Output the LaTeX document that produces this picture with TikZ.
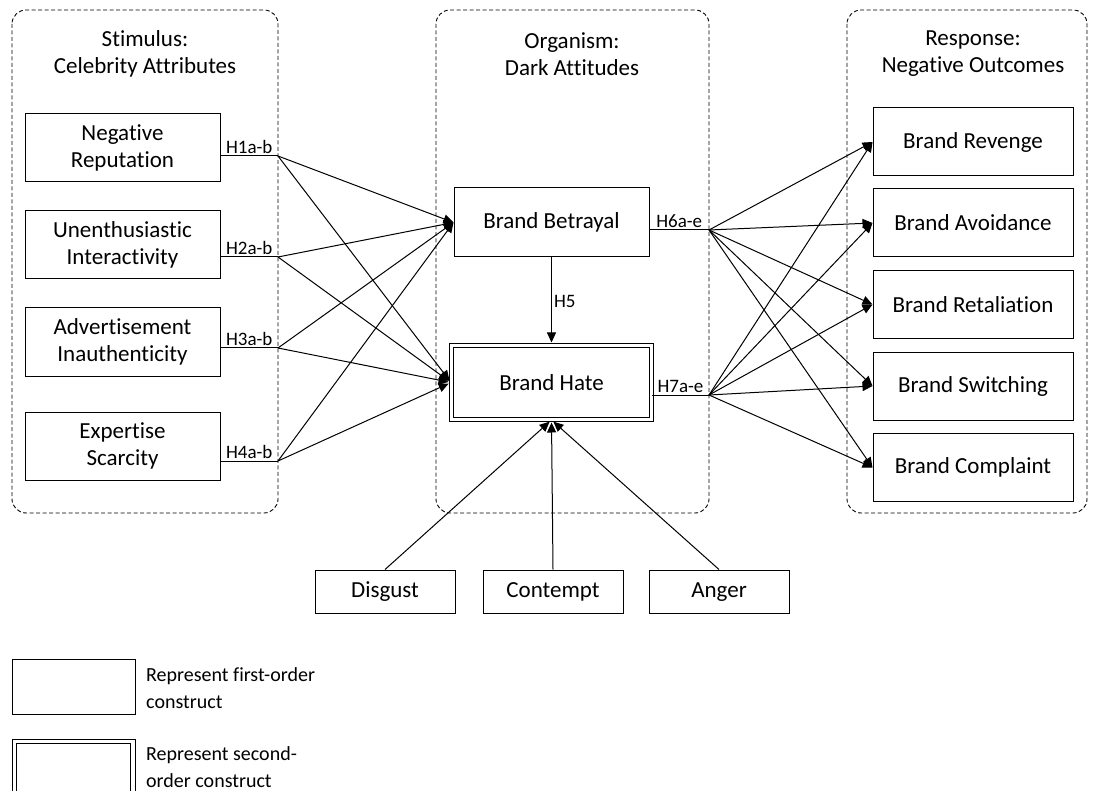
\documentclass[tikz,border=0pt]{standalone}
\usepackage{fontspec}
\setmainfont{Carlito}[Ligatures=NoCommon]
\usetikzlibrary{arrows.meta}

\begin{document}
\begin{tikzpicture}[x=1pt, y=-1pt]
        \tikzstyle{stage}=[draw, dash pattern=on 4pt off 2.5pt,
            rounded corners=14pt, line width=0.9pt]
        \tikzstyle{construct}=[draw, line width=1pt, inner sep=0pt,
            align=center, font=\fontsize{23}{27}\selectfont]
        \tikzstyle{emotion}=[construct, minimum width=140, minimum height=43,
            text height=16pt, text depth=5pt]
        \tikzstyle{heading}=[align=center, font=\fontsize{23}{27}\selectfont]
        \tikzstyle{hyp}=[inner sep=2pt, font=\fontsize{19}{22}\selectfont]
        \tikzstyle{legend}=[align=left, inner sep=0pt, font=\fontsize{20}{27}\selectfont]
        \tikzstyle{effect}=[line width=1pt, -{Triangle[length=10pt, width=9pt]}]

        \useasboundingbox (0, 0) rectangle (1097, 791);
        \clip (0, 0) rectangle (1097, 791);

	\draw[stage] (12, 10) rectangle (278, 513);
	\draw[stage] (436, 10) rectangle (709, 513);
	\draw[stage] (847, 10) rectangle (1087, 513);

        \node[heading] (stimulus) at (145, 54) {Stimulus:\\Celebrity Attributes};
        \node[heading] (organism) at (572, 54) {Organism:\\Dark Attitudes};
        \node[heading] (response) at (973, 54) {Response:\\Negative Outcomes};

        \node[construct, minimum width=195, minimum height=68] (nr) at (122.5, 148) {Negative\\Reputation};
        \node[construct, minimum width=195, minimum height=68] (ui) at (122.5, 245) {Unenthusiastic\\Interactivity};
        \node[construct, minimum width=195, minimum height=68] (ai) at (122.5, 342) {Advertisement\\Inauthenticity};
        \node[construct, minimum width=195, minimum height=68] (es) at (122.5, 446) {Expertise\\Scarcity};

        \node[construct, minimum width=195, minimum height=69] (bb) at (551.5, 222.5) {Brand Betrayal};
        \node[construct, double, double distance=3.5pt,
            minimum width=200, minimum height=74] (bh) at (551.5, 382.5) {Brand Hate};

        \node[construct, minimum width=200, minimum height=68] (rv) at (973, 142) {Brand Revenge};
        \node[construct, minimum width=200, minimum height=68] (av) at (973, 223) {Brand Avoidance};
        \node[construct, minimum width=200, minimum height=68] (rt) at (973, 304.5) {Brand Retaliation};
        \node[construct, minimum width=200, minimum height=68] (sw) at (973, 386) {Brand Switching};
        \node[construct, minimum width=200, minimum height=68] (cp) at (973, 467.5) {Brand Complaint};

        \node[emotion] (dg) at (385, 591.5) {Disgust};
        \node[emotion] (ct) at (553, 591.5) {Contempt};
        \node[emotion] (ag) at (719, 591.5) {Anger};

        \coordinate (h1) at (278, 156);
        \coordinate (h2) at (278, 257);
        \coordinate (h3) at (278, 348);
        \coordinate (h4) at (278, 461);
        \coordinate (h6) at (709, 230);
        \coordinate (h7) at (709, 395);

	\draw[line width=1pt] (nr.east |- h1) -- node[hyp, above] {H1a-b} (h1);
	\draw[line width=1pt] (ui.east |- h2) -- node[hyp, above] {H2a-b} (h2);
	\draw[line width=1pt] (ai.east |- h3) -- node[hyp, above] {H3a-b} (h3);
	\draw[line width=1pt] (es.east |- h4) -- node[hyp, above] {H4a-b} (h4);
	\draw[line width=1pt] (bb.east |- h6) -- node[hyp, above] {H6a-e} (h6);
	\draw[line width=1pt] (bh.east |- h7) -- node[hyp, above] {H7a-e} (h7);

	\draw[effect] (h1) to (bb.west);
	\draw[effect, shorten >=2.5pt] (h1) to (bh.west);
	\draw[effect] (h2) to (bb.west);
	\draw[effect, shorten >=2.5pt] (h2) to (bh.west);
	\draw[effect] (h3) to (bb.west);
	\draw[effect, shorten >=2.5pt] (h3) to (bh.west);
	\draw[effect] (h4) to (bb.west);
	\draw[effect, shorten >=2.5pt] (h4) to (bh.west);

	\draw[effect, shorten >=2.5pt] (bb.south) -- node[hyp, right] {H5} (bh.north);

	\draw[effect] (h6) to (rv.west);
	\draw[effect] (h6) to (av.west);
	\draw[effect] (h6) to (rt.west);
	\draw[effect] (h6) to (sw.west);
	\draw[effect] (h6) to (cp.west);
	\draw[effect] (h7) to (rv.west);
	\draw[effect] (h7) to (av.west);
	\draw[effect] (h7) to (rt.west);
	\draw[effect] (h7) to (sw.west);
	\draw[effect] (h7) to (cp.west);

	\draw[effect, shorten >=2.5pt] (dg.north) to (bh.south);
	\draw[effect, shorten >=2.5pt] (ct.north) to (bh.south);
	\draw[effect, shorten >=2.5pt] (ag.north) to (bh.south);

        \node[construct, minimum width=123, minimum height=55] (first) at (73.5, 686.5) {};
        \node[construct, double, double distance=3.5pt,
            minimum width=118.5, minimum height=61.5] (second) at (73.5, 772) {};
        \node[legend, anchor=west] (firsttext) at (146, 688) {Represent first-order\\construct};
        \node[legend, anchor=west] (secondtext) at (146, 767) {Represent second-\\order construct};
    \end{tikzpicture}
\end{document}
